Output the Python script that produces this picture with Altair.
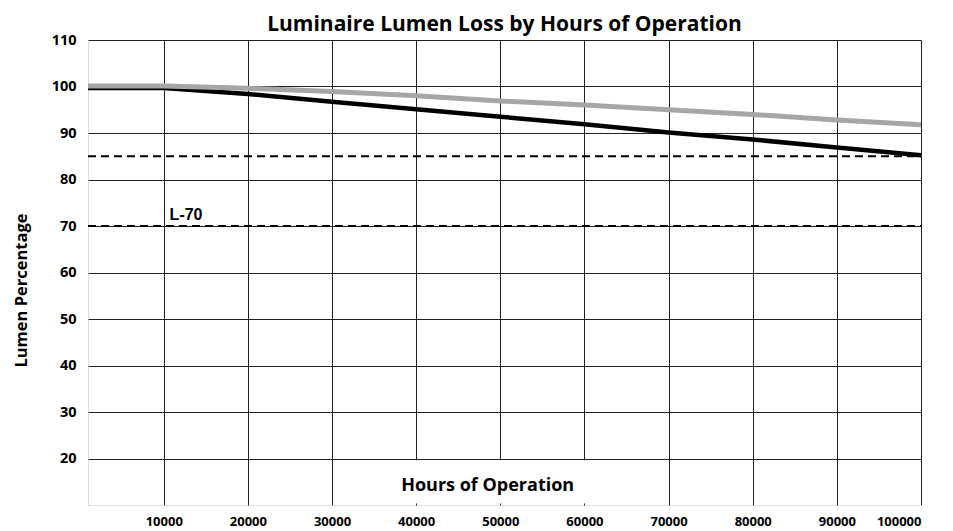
import altair as alt
import pandas as pd

# ---- data ----
hours = [1000, 10000, 20000, 30000, 40000, 50000, 60000, 70000, 80000, 90000, 100000]
gray_pct = [100.1, 100.1, 99.6, 98.9, 98.0, 96.9, 96.0, 95.0, 94.0, 92.8, 91.8]
black_pct = [99.7, 99.7, 98.4, 96.7, 95.1, 93.5, 91.9, 90.1, 88.6, 86.9, 85.2]

ref_levels = [85, 70]
ref_x = [1000, 100000]

x_ticks = [10000, 20000, 30000, 40000, 50000, 60000, 70000, 80000, 90000, 100000]
y_ticks = [20, 30, 40, 50, 60, 70, 80, 90, 100, 110]

l70_label = ["L-70"]
l70_pos = [10700, 71.3]

xtitle_text = ["Hours of Operation"]
xtitle_pos = [48500, 14.0]
xtitle_box_x = [30700, 67000]
xtitle_box_y = [10.3, 19.6]

FONT = "Open Sans"

lines_df = pd.DataFrame({
    "hours": hours * 2,
    "pct": gray_pct + black_pct,
    "series": ["gray"] * len(hours) + ["black"] * len(hours),
})
ref_df = pd.DataFrame({
    "hours": [ref_x[0], ref_x[1]] * len(ref_levels),
    "pct": [lv for lv in ref_levels for _ in range(2)],
    "level": [str(lv) for lv in ref_levels for _ in range(2)],
})

xscale = alt.Scale(domain=[1000, 100000], nice=False, zero=False)
yscale = alt.Scale(domain=[10, 110], nice=False, zero=False)

x_enc = alt.X("hours:Q", scale=xscale,
              axis=alt.Axis(values=x_ticks, grid=True, ticks=False, domain=False,
                            title=None, labelFont=FONT, labelFontWeight="bold",
                            labelFontSize=13, labelColor="black", labelPadding=10,
                            gridColor="#222222", gridWidth=1, format="d",
                            labelOverlap=False))
y_enc = alt.Y("pct:Q", scale=yscale,
              axis=alt.Axis(values=y_ticks, grid=True, ticks=False, domain=False,
                            title="Lumen Percentage", titleFont=FONT,
                            titleFontWeight="bold", titleFontSize=16.5, titleColor="black",
                            titleX=-67, titleY=250, titleAngle=-90,
                            titleAlign="center", titleBaseline="middle",
                            labelFont=FONT, labelFontWeight="bold", labelFontSize=14.5,
                            labelColor="black", labelPadding=12,
                            gridColor="#222222", gridWidth=1, labelOverlap=False))

base_grid = alt.Chart(ref_df).mark_line(opacity=0).encode(x=x_enc, y=y_enc)

ref_lines = alt.Chart(ref_df).mark_line(color="black", strokeWidth=2, strokeDash=[8, 5]).encode(
    x=alt.X("hours:Q", scale=xscale), y=alt.Y("pct:Q", scale=yscale), detail="level:N")

black_line = alt.Chart(lines_df[lines_df.series == "black"]).mark_line(
    color="black", strokeWidth=4.5).encode(
    x=alt.X("hours:Q", scale=xscale), y=alt.Y("pct:Q", scale=yscale))

gray_line = alt.Chart(lines_df[lines_df.series == "gray"]).mark_line(
    color="#a6a6a6", strokeWidth=5).encode(
    x=alt.X("hours:Q", scale=xscale), y=alt.Y("pct:Q", scale=yscale))

box_df = pd.DataFrame({"x": [xtitle_box_x[0]], "x2": [xtitle_box_x[1]],
                       "y": [xtitle_box_y[0]], "y2": [xtitle_box_y[1]]})
box = alt.Chart(box_df).mark_rect(color="white").encode(
    x=alt.X("x:Q", scale=xscale), x2="x2:Q",
    y=alt.Y("y:Q", scale=yscale), y2="y2:Q")

xt_df = pd.DataFrame({"t": xtitle_text, "x": [xtitle_pos[0]], "y": [xtitle_pos[1]]})
xtitle = alt.Chart(xt_df).mark_text(font=FONT, fontWeight="bold", fontSize=18,
                                     color="black", align="center", baseline="middle").encode(
    x=alt.X("x:Q", scale=xscale), y=alt.Y("y:Q", scale=yscale), text="t:N")

l70_df = pd.DataFrame({"t": l70_label, "x": [l70_pos[0]], "y": [l70_pos[1]]})
l70 = alt.Chart(l70_df).mark_text(font="Liberation Sans", fontWeight="bold", fontSize=16,
                                   color="black", align="left", baseline="alphabetic").encode(
    x=alt.X("x:Q", scale=xscale), y=alt.Y("y:Q", scale=yscale), text="t:N")

chart = alt.layer(base_grid, box, ref_lines, black_line, gray_line, xtitle, l70).properties(
    width=833, height=465,
    title=alt.TitleParams("Luminaire Lumen Loss by Hours of Operation", font=FONT,
                          fontWeight="bold", fontSize=21, color="black",
                          anchor="middle", offset=-3),
    autosize=alt.AutoSizeParams(type="none"),
    padding={"left": 80, "top": 32, "right": 24, "bottom": 26},
).configure_view(stroke="black", strokeWidth=2.5).configure(background="white")

chart.save("out.html", embed_options={"renderer": "svg", "actions": False})
